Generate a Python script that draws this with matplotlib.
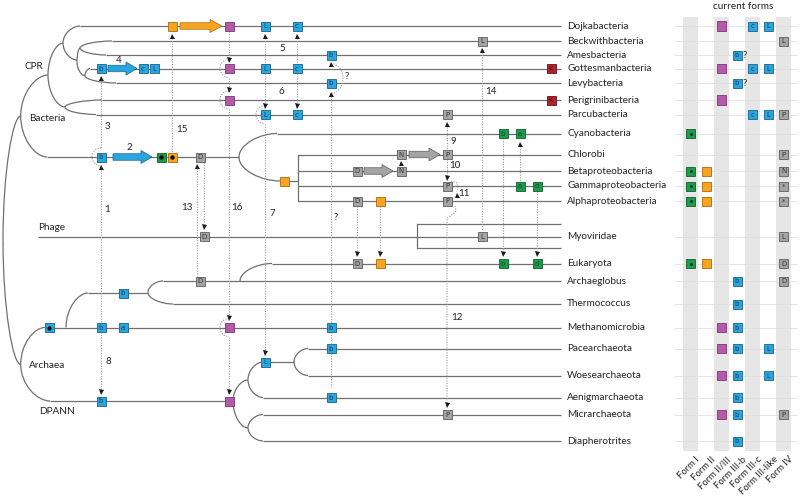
import numpy as np
import matplotlib
matplotlib.use("Agg")
import matplotlib.pyplot as plt
from matplotlib.patches import Rectangle, FancyArrow, PathPatch
from matplotlib.path import Path

plt.rcParams['font.family'] = ['Lato', 'DejaVu Sans']

############################### data ###############################

taxa = ["Dojkabacteria", "Beckwithbacteria", "Amesbacteria", "Gottesmanbacteria",
        "Levybacteria", "Perigrinibacteria", "Parcubacteria", "Cyanobacteria",
        "Chlorobi", "Betaproteobacteria", "Gammaproteobacteria", "Alphaproteobacteria",
        "Myoviridae", "Eukaryota", "Archaeglobus", "Thermococcus", "Methanomicrobia",
        "Pacearchaeota", "Woesearchaeota", "Aenigmarchaeota", "Micrarchaeota",
        "Diapherotrites"]

forms = ["Form I", "Form II", "Form II/III", "Form III-b", "Form III-c",
         "Form III-like", "Form IV"]
form_kind = ["I", "II", "II/III", "III", "III", "III", "IV"]

# current forms of each taxon: (form, letter)
current = [
    [("Form II/III", ""), ("Form III-c", "c"), ("Form III-like", "L")],
    [("Form IV", "L")],
    [("Form III-b", "b")],
    [("Form II/III", ""), ("Form III-c", "c"), ("Form III-like", "L")],
    [("Form III-b", "b")],
    [("Form II/III", "")],
    [("Form III-c", "c"), ("Form III-like", "L"), ("Form IV", "P")],
    [("Form I", "·")],
    [("Form IV", "P")],
    [("Form I", "·"), ("Form II", ""), ("Form IV", "N")],
    [("Form I", "·"), ("Form II", ""), ("Form IV", "*")],
    [("Form I", "·"), ("Form II", ""), ("Form IV", "*")],
    [("Form IV", "L")],
    [("Form I", "·"), ("Form II", ""), ("Form IV", "D")],
    [("Form III-b", "b"), ("Form IV", "D")],
    [("Form III-b", "b")],
    [("Form II/III", ""), ("Form III-b", "b")],
    [("Form II/III", ""), ("Form III-b", "b"), ("Form III-like", "L")],
    [("Form II/III", ""), ("Form III-b", "b"), ("Form III-like", "L")],
    [("Form III-b", "b")],
    [("Form II/III", ""), ("Form III-b", "b"), ("Form IV", "P")],
    [("Form III-b", "b")],
]
uncertain = ["Amesbacteria", "Levybacteria"]

# rubisco genes placed on the tree: (row, x, kind, letter)
tree_genes = [
    ("Gottesmanbacteria", 101, "III", "b"), ("Gottesmanbacteria", 143, "III", "c"),
    ("Gottesmanbacteria", 154, "III", "L"),
    ("Dojkabacteria", 172, "II", ""), ("Dojkabacteria", 229, "II/III", ""),
    ("Dojkabacteria", 265, "III", "L"), ("Dojkabacteria", 297, "III", "c"),
    ("Gottesmanbacteria", 229, "II/III", ""), ("Gottesmanbacteria", 265, "III", "L"),
    ("Gottesmanbacteria", 297, "III", "c"), ("Gottesmanbacteria", 551, "K", "K"),
    ("Perigrinibacteria", 229, "II/III", ""), ("Perigrinibacteria", 551, "K", "K"),
    ("Parcubacteria", 265, "III", "L"), ("Parcubacteria", 297, "III", "c"),
    ("Parcubacteria", 447, "IV", "P"),
    ("Amesbacteria", 331, "III", "b"), ("Levybacteria", 331, "III", "b"),
    ("Beckwithbacteria", 482, "IV", "L"),
    ("bacteria", 101, "III", "b"), ("bacteria", 161, "I", "•"),
    ("bacteria", 172, "II", "•"), ("bacteria", 200, "IV", "D"),
    ("proteo", 284, "II", ""),
    ("Cyanobacteria", 503, "I", "b"), ("Cyanobacteria", 520, "I", "a"),
    ("Chlorobi", 401, "IV", "N"), ("Chlorobi", 447, "IV", "P"),
    ("Betaproteobacteria", 357, "IV", "D"), ("Betaproteobacteria", 401, "IV", "N"),
    ("Gammaproteobacteria", 447, "IV", "P"), ("Gammaproteobacteria", 520, "I", "a"),
    ("Gammaproteobacteria", 537, "I", "d"),
    ("Alphaproteobacteria", 357, "IV", "D"), ("Alphaproteobacteria", 380, "II", ""),
    ("Alphaproteobacteria", 447, "IV", "P"),
    ("Myoviridae", 204, "IV", "D"), ("Myoviridae", 482, "IV", "L"),
    ("Eukaryota", 357, "IV", "D"), ("Eukaryota", 380, "II", ""),
    ("Eukaryota", 503, "I", "b"), ("Eukaryota", 537, "I", "d"),
    ("Archaeglobus", 200, "IV", "D"), ("archaea2", 123, "III", "b"),
    ("Methanomicrobia", 49, "III", "•"), ("Methanomicrobia", 101, "III", "b"),
    ("Methanomicrobia", 123, "III", "a"), ("Methanomicrobia", 229, "II/III", ""),
    ("Methanomicrobia", 331, "III", "b"),
    ("DPANN", 101, "III", "b"), ("DPANN", 229, "II/III", ""),
    ("paceL", 265, "III", "L"),
    ("Pacearchaeota", 331, "III", "b"), ("Aenigmarchaeota", 331, "III", "b"),
    ("Micrarchaeota", 447, "IV", "P"),
]

# block arrows (gene change events): (row, x_start, x_end, kind)
block_arrows = [("bacteria", 113, 152, "III"), ("Gottesmanbacteria", 108, 137, "III"),
                ("Dojkabacteria", 180, 222, "II"), ("Betaproteobacteria", 364, 393, "IV"),
                ("Chlorobi", 409, 440, "IV")]

# transfer numbers: (label, x, y)
transfer_labels = [("1", 107, 209), ("2", 129, 147), ("3", 107, 126), ("4", 119, 60),
                   ("5", 282, 48), ("6", 281, 91), ("7", 272, 213), ("8", 108, 361),
                   ("9", 453, 141), ("10", 455, 166), ("11", 464, 193), ("12", 457, 317),
                   ("13", 187, 208), ("14", 491, 91), ("15", 182, 129), ("16", 237, 208),
                   ("?", 347, 76), ("?", 336, 217)]

############################### layout / style ###############################

row_y = dict(zip(taxa, [26, 41, 55, 68.5, 83, 100, 114.5, 133.5, 154.5, 171, 186, 201,
                        236.5, 263.5, 281, 304, 327.5, 348.5, 375.5, 397.5, 414.5, 441]))
row_y.update({"bacteria": 157, "proteo": 181, "archaea2": 293, "DPANN": 401, "paceL": 362})

face = {"I": "#1e9a4c", "II": "#f7a520", "II/III": "#b35aa8", "III": "#2aa5de",
        "IV": "#a4a4a4", "K": "#b3242e"}
edge = {"I": "#0f5f2c", "II": "#a8690e", "II/III": "#7a3572", "III": "#17618a",
        "IV": "#5c5c5c", "K": "#6a1016"}
txtc = {"I": "#0b4a22", "II": "#7a4c08", "II/III": "#5a2352", "III": "#0f3f63",
        "IV": "#333333", "K": "#5a0c12"}
LC, LW = "#707070", 0.9
DC = "#9a9a9a"
x_end, x_lab = 561, 567

fig = plt.figure(figsize=(8, 4.99), dpi=100)
ax = fig.add_axes([0, 0, 1, 1])
ax.set_xlim(0, 800)
ax.set_ylim(499, 0)
ax.axis("off")


def ln(x1, x2, y, c=LC):
    ax.plot([x1, x2], [y, y], color=c, lw=LW, zorder=2, solid_capstyle="butt")


def elbow(x0, y0, x1, y1, k=0.55, c=LC):
    verts = [(x0, y0), (x0, y0 + k * (y1 - y0)), (x0 + k * (x1 - x0), y1), (x1, y1)]
    p = Path(verts, [Path.MOVETO, Path.CURVE4, Path.CURVE4, Path.CURVE4])
    ax.add_patch(PathPatch(p, fill=False, ec=c, lw=LW, zorder=2))


def bracket(x0, yt, yb, xt, xb):
    ym = (yt + yb) / 2
    elbow(x0, ym, xt, yt)
    elbow(x0, ym, xb, yb)


def box(x, y, kind, letter="", s=9.0):
    ax.add_patch(Rectangle((x - s / 2, y - s / 2), s, s, fc=face[kind], ec=edge[kind],
                           lw=0.6, zorder=5))
    if letter == "•":
        ax.plot(x, y, "o", ms=2.2, color="#111111", zorder=6)
    elif letter == "·":
        ax.plot(x, y, "o", ms=1.1, color="#0b3a1a", zorder=6)
    elif letter:
        ax.text(x, y + 0.4, letter, fontsize=5, color=txtc[kind], ha="center",
                va="center", zorder=6, family="DejaVu Sans")


def vdot(x, y1, y2):
    ax.plot([x, x], [y1, y2], color=DC, lw=0.8, ls=(0, (1, 1.3)), zorder=3)


def tri(x, y, up=True):
    ax.plot(x, y, marker="^" if up else "v", ms=3.6, color="#1a1a1a", mew=0, zorder=6)


def arc(x, yc, r=9, side=-1, ry=None):
    ry = r if ry is None else ry
    t = np.linspace(-np.pi / 2, np.pi / 2, 40)
    ax.plot(x + side * r * np.cos(t), yc + ry * np.sin(t), color=DC, lw=0.8,
            ls=(0, (1, 1.3)), zorder=3)


############################### tree ###############################

R = row_y
# root, bacteria, CPR
bracket(3, 116, 364.5, 20.7, 20.7)
bracket(20.7, 75, 157, 48, 47)
bracket(48, 43, 107, 63, 65)
bracket(63, R["Dojkabacteria"], 60, 80, 77)
bracket(77, 48, 75.7, 80, 85)
bracket(80, R["Beckwithbacteria"], R["Amesbacteria"], 112, 106)
bracket(85, R["Gottesmanbacteria"], R["Levybacteria"], 90, 116)
bracket(65, R["Perigrinibacteria"], R["Parcubacteria"], 102, 96)
for t, x0 in [("Dojkabacteria", 80), ("Beckwithbacteria", 112), ("Amesbacteria", 106),
              ("Gottesmanbacteria", 90), ("Levybacteria", 116), ("Perigrinibacteria", 102),
              ("Parcubacteria", 96)]:
    ln(x0, x_end, R[t])

# other bacteria
ln(47, 239, R["bacteria"])
bracket(239, R["Cyanobacteria"], R["proteo"], 277, 280)
ln(277, x_end, R["Cyanobacteria"])
ln(280, 298, R["proteo"])
ax.plot([298, 298], [R["Chlorobi"], R["Alphaproteobacteria"]], color=LC, lw=LW, zorder=2)
for t in ["Chlorobi", "Betaproteobacteria", "Gammaproteobacteria", "Alphaproteobacteria"]:
    ln(298, x_end, R[t])

# phage
ln(38, x_end, R["Myoviridae"])
ax.plot([417, 417], [224, 248], color=LC, lw=LW, zorder=2)
ln(417, x_end, 224)
ln(417, x_end, 248)

# archaea
bracket(20.7, R["Methanomicrobia"], R["DPANN"], 45, 50)
ln(45, x_end, R["Methanomicrobia"])
elbow(66, R["Methanomicrobia"], 88, R["archaea2"])
ln(88, 148, R["archaea2"])
bracket(148, R["Archaeglobus"], R["Thermococcus"], 163, 173)
ln(163, x_end, R["Archaeglobus"])
ln(173, x_end, R["Thermococcus"])
elbow(240, R["Archaeglobus"], 272, R["Eukaryota"])
ln(272, x_end, R["Eukaryota"])

# DPANN
ln(50, 229, R["DPANN"])
elbow(233, R["DPANN"], 248, 380)
elbow(233, R["DPANN"], 248, 428)
bracket(248, R["paceL"], R["Aenigmarchaeota"], 263, 263)
bracket(248, R["Micrarchaeota"], R["Diapherotrites"], 263, 263)
ln(263, 294, R["paceL"])
bracket(294, R["Pacearchaeota"], R["Woesearchaeota"], 308, 308)
for t, x0 in [("Pacearchaeota", 308), ("Woesearchaeota", 308), ("Aenigmarchaeota", 263),
              ("Micrarchaeota", 263), ("Diapherotrites", 263)]:
    ln(x0, x_end, R[t])

############################### transfers (dotted) ###############################

# 3 / 1 / 8
tri(101, 77.5); vdot(101, 80, 148); arc(101, R["bacteria"])
tri(101, 167); vdot(101, 170, 323); vdot(101, 332, 389); tri(101, 391.5, False)
# 15
tri(172, 35.5); vdot(172, 38, 152)
# 13
tri(197, 165.5); vdot(197, 168, 276)
vdot(204, 162, 223); tri(204, 226.5, False)
# 16
vdot(229, 31, 57); tri(229, 59.5, False); arc(229, R["Gottesmanbacteria"])
vdot(229, 77.5, 87); tri(229, 90, False); arc(229, R["Perigrinibacteria"])
vdot(229, 109, 315); tri(229, 317.5, False); arc(229, R["Methanomicrobia"])
vdot(229, 336.5, 389); tri(229, 391.5, False)
# 5 / 6 / 7
for x in (265, 297):
    tri(x, 35.5); vdot(x, 38, 64); vdot(x, 73, 103); tri(x, 105.5, False)
arc(265, R["Parcubacteria"])
vdot(265, 123.5, 350); tri(265, 352.5, False)
# b ?
tri(331, 63.5); arc(331, 78.5, r=12, side=1, ry=15); tri(331, 93.5)
vdot(331, 96, 323); vdot(331, 332, 344); vdot(331, 353, 387)
# 14
tri(482, 49.5); vdot(482, 52, 231)
# 9 / 10 / 11 / 12
tri(447, 124); vdot(447, 127, 150)
tri(401, 163)
vdot(447, 159, 175); tri(447, 177.5, False)
ax.plot([451, 457, 458, 456.5], [181, 183, 188, 192], color=DC, lw=0.8, ls=(0, (1, 1.3)), zorder=3)
tri(456.5, 195)
xs = np.array([455, 456, 452, 447, 447])
ys = np.array([206, 211, 215, 218, 401])
ax.plot(xs, ys, color=DC, lw=0.8, ls=(0, (1, 1.3)), zorder=3)
tri(447, 404.5, False)
# proteobacteria -> eukaryota, cyanobacteria
for x in (357, 380):
    vdot(x, 206, 250); tri(x, 253.5, False)
vdot(503, 138, 250); tri(503, 253.5, False)
vdot(537, 191, 250); tri(537, 253.5, False)
tri(520, 143.5); vdot(520, 146, 181)

############################### genes and arrows on tree ###############################

for row, x, kind, letter in tree_genes:
    box(x, R[row], kind, letter)

for row, x1, x2, kind in block_arrows:
    y = R[row]
    hl = 11 if kind != "II" else 12
    ax.add_patch(FancyArrow(x1, y, x2 - x1, 0, width=6.5, head_width=13, head_length=hl,
                            length_includes_head=True, fc=face[kind], ec=edge[kind],
                            lw=0.5, zorder=5))

for lab, x, y in transfer_labels:
    ax.text(x, y, lab, fontsize=7, color="#222222", ha="center", va="center")

############################### labels ###############################

for t in taxa:
    ax.text(x_lab, R[t], t, fontsize=7.2, color="#222222", ha="left", va="center")

ax.text(34, 66, "CPR", fontsize=7.2, color="#222222", ha="center", va="center")
ax.text(47, 118, "Bacteria", fontsize=7.2, color="#222222", ha="center", va="center")
ax.text(38, 227, "Phage", fontsize=7.2, color="#222222", ha="left", va="center")
ax.text(47, 365, "Archaea", fontsize=7.2, color="#222222", ha="center", va="center")
ax.text(57, 412, "DPANN", fontsize=7.2, color="#222222", ha="center", va="center")

############################### current forms matrix ###############################

col_x = dict(zip(forms, [690.5, 706, 721.5, 737, 752.5, 768, 783.5]))
for i, f in enumerate(forms):
    if i % 2 == 0:
        ax.add_patch(Rectangle((col_x[f] - 7.5, 17), 15, 434, fc="#e6e6e6", ec="none",
                               zorder=0))
for t in taxa:
    ax.plot([675, 797], [R[t], R[t]], color="#dcdcdc", lw=0.5, zorder=1)

for t, entries in zip(taxa, current):
    for f, letter in entries:
        kind = form_kind[forms.index(f)]
        box(col_x[f], R[t], kind, letter, s=9.5 if kind == "II/III" else 9)
    if t in uncertain:
        ax.text(col_x["Form III-b"] + 6, R[t], "?", fontsize=7, color="#222222",
                ha="left", va="center")

ax.text(743, 6, "current forms", fontsize=7.2, color="#222222", ha="center", va="center")
for f in forms:
    ax.text(col_x[f] + 5, 455, f, fontsize=6.8, color="#222222", rotation=45,
            ha="right", va="top", rotation_mode="anchor")

fig.savefig("out.png", dpi=100)
